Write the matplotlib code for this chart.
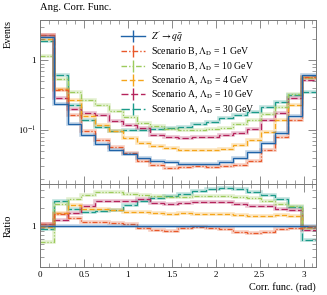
import numpy as np
import matplotlib
matplotlib.use("Agg")
import matplotlib.pyplot as plt
from matplotlib.lines import Line2D
from matplotlib.ticker import LogLocator, NullFormatter, FixedLocator, FixedFormatter, MultipleLocator

plt.rcParams['font.family'] = ['Liberation Serif', 'DejaVu Serif']
plt.rcParams['mathtext.fontset'] = 'stix'

# ---- data ----
edges = np.linspace(0, np.pi, 21)
labels = [r"$Z^\prime \rightarrow q\bar{q}$",
          r"Scenario B, $\Lambda_\mathrm{D}$ = 1 GeV",
          r"Scenario B, $\Lambda_\mathrm{D}$ = 10 GeV",
          r"Scenario A, $\Lambda_\mathrm{D}$ = 4 GeV",
          r"Scenario A, $\Lambda_\mathrm{D}$ = 10 GeV",
          r"Scenario A, $\Lambda_\mathrm{D}$ = 30 GeV"]
zprime = [2.16, 0.236, 0.123, 0.084, 0.0624, 0.0515, 0.0453, 0.0392, 0.036, 0.0344,
          0.0325, 0.0323, 0.0323, 0.0344, 0.0392, 0.049, 0.0645, 0.092, 0.157, 0.615]
scenB_1 = [2.3, 0.37, 0.164, 0.098, 0.071, 0.0565, 0.0475, 0.0357, 0.031, 0.0282,
           0.0293, 0.0304, 0.0295, 0.030, 0.031, 0.0365, 0.051, 0.080, 0.141, 0.58]
scenB_10 = [1.16, 0.54, 0.347, 0.27, 0.228, 0.187, 0.152, 0.128, 0.113, 0.104,
            0.10, 0.10, 0.102, 0.108, 0.12, 0.14, 0.17, 0.215, 0.33, 0.56]
scenA_4 = [2.02, 0.39, 0.27, 0.158, 0.118, 0.096, 0.076, 0.066, 0.058, 0.055,
           0.052, 0.051, 0.051, 0.054, 0.060, 0.072, 0.095, 0.137, 0.232, 0.58]
scenA_10 = [2.3, 0.288, 0.20, 0.178, 0.162, 0.136, 0.118, 0.108, 0.085, 0.079,
            0.077, 0.080, 0.080, 0.086, 0.090, 0.104, 0.138, 0.175, 0.285, 0.52]
scenA_30 = [1.89, 0.615, 0.231, 0.141, 0.112, 0.096, 0.10, 0.10, 0.104, 0.107,
            0.112, 0.122, 0.132, 0.147, 0.164, 0.183, 0.213, 0.255, 0.318, 0.347]
xticks = [0, 0.5, 1, 1.5, 2, 2.5, 3]
xticklabels = ['0', '0.5', '1', '1.5', '2', '2.5', '3']

series = [zprime, scenB_1, scenB_10, scenA_4, scenA_10, scenA_30]
colors = ['#1f63a8', '#e8582a', '#9dcb5c', '#f5a51a', '#b5245c', '#1b9a8a']
styles = ['-', (0, (4, 1.5, 1, 1.5)), (0, (4, 1.5, 1, 1.5, 1, 1.5)),
          (0, (4, 2)), (0, (5, 2)), (0, (6, 2))]

W, H = 327, 295
fig = plt.figure(figsize=(W / 100, H / 100), dpi=100)
ax = fig.add_axes([40 / W, (H - 184) / H, 276 / W, 164 / H])
axr = fig.add_axes([40 / W, (H - 267.3) / H, 276 / W, 83.3 / H])

ref = np.array(zprime)
for i in range(len(series) - 1, -1, -1):
    v = np.array(series[i])
    c = colors[i]
    ax.stairs(v, edges, color=c, lw=2.6, alpha=0.28, baseline=None)
    ax.stairs(v, edges, color=c, lw=0.9, ls=styles[i], baseline=None)
    r = v / ref
    axr.stairs(r, edges, color=c, lw=2.6, alpha=0.28, baseline=None)
    axr.stairs(r, edges, color=c, lw=0.9, ls=styles[i], baseline=None)

tickc = '#777777'
for a in (ax, axr):
    a.set_xlim(0, np.pi)
    a.set_yscale('log')
    a.xaxis.set_major_locator(FixedLocator(xticks))
    a.xaxis.set_minor_locator(MultipleLocator(0.1))
    a.tick_params(which='both', direction='in', top=True, right=True,
                  color=tickc, labelsize=6.5, pad=3)
    a.tick_params(which='major', length=6, width=0.6)
    a.tick_params(which='minor', length=3, width=0.5)
    for s in a.spines.values():
        s.set_color(tickc)
        s.set_linewidth(0.7)

ax.set_ylim(0.0168, 3.79)
ax.yaxis.set_major_locator(FixedLocator([0.1, 1]))
ax.yaxis.set_major_formatter(FixedFormatter([r'$10^{-1}$', '1']))
ax.yaxis.set_minor_locator(LogLocator(base=10, subs=np.arange(2, 10)))
ax.yaxis.set_minor_formatter(NullFormatter())
ax.set_xticklabels([])

axr.set_ylim(0.2, 5.0)
axr.yaxis.set_major_locator(FixedLocator([1]))
axr.yaxis.set_major_formatter(FixedFormatter(['1']))
axr.yaxis.set_minor_locator(LogLocator(base=10, subs=np.arange(2, 10)))
axr.yaxis.set_minor_formatter(NullFormatter())
axr.set_xticklabels(xticklabels)

fig.text(40 / W, 1 - 8 / H, 'Ang. Corr. Func.', fontsize=7.6, ha='left', va='center')
fig.text(8 / W, 1 - 20 / H, 'Events', fontsize=7.4, rotation=90, ha='center', va='top')
fig.text(8 / W, 1 - 226 / H, 'Ratio', fontsize=7.4, rotation=90, ha='center', va='center')
fig.text(316 / W, 1 - 287 / H, 'Corr. func. (rad)', fontsize=7.4, ha='right', va='center')

handles = [Line2D([], [], color=colors[i], ls=styles[i], lw=1.0, marker='|',
                  markersize=8, markeredgewidth=1.0) for i in range(len(series))]
leg = fig.legend(handles, labels, loc='upper left',
                 bbox_to_anchor=(121 / W, 1 - 29 / H), frameon=False,
                 fontsize=7, handlelength=2.5, handletextpad=0.55,
                 labelspacing=0.2, borderpad=0, borderaxespad=0)

fig.savefig('out.png', dpi=100)
